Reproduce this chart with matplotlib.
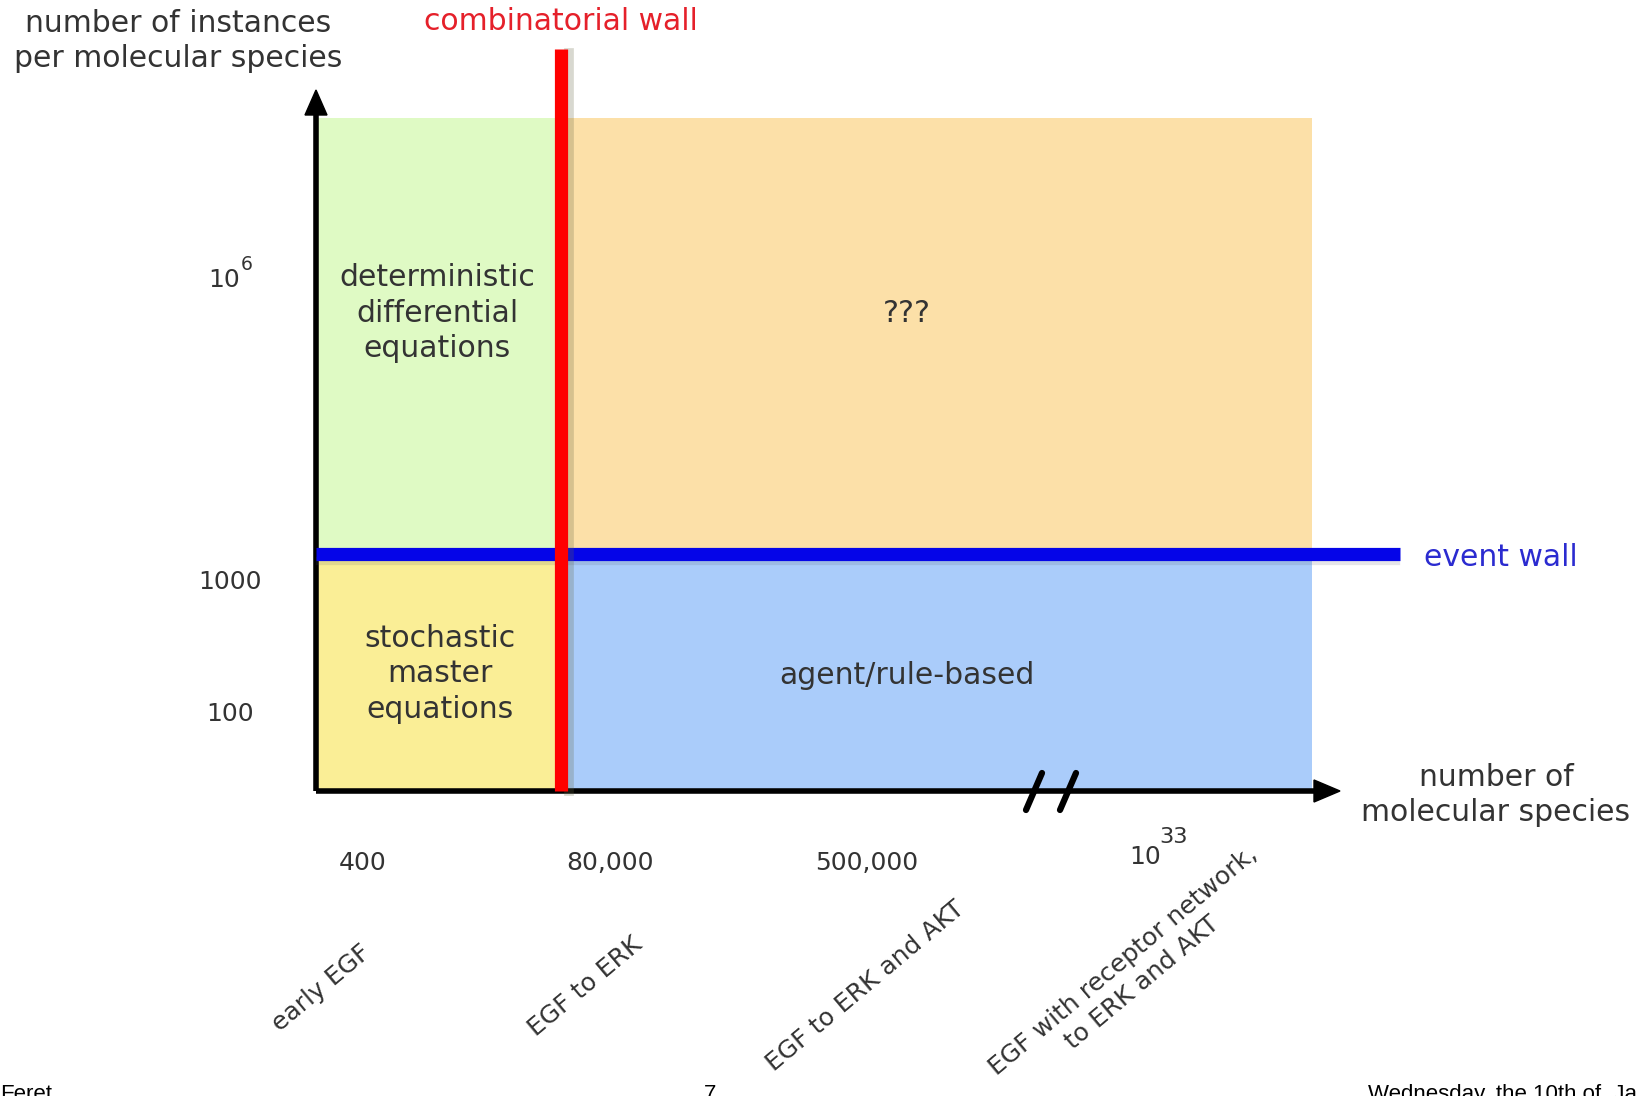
import matplotlib
matplotlib.use('Agg')

import matplotlib.pyplot as plt
from matplotlib.patches import Rectangle, Polygon


FIG_W, FIG_H = 1638, 1096  # pixels, drawn on a pixel canvas

# region boundaries (canvas pixels)
region_x = [316, 561, 1312]       # left axis, combinatorial wall, right edge
region_y = [118, 554, 791]        # top, event wall, x axis
region_colors = ['#dffac4', '#fce0a8', '#faee96', '#aaccfa']  # TL, TR, BL, BR
region_labels = [
    'deterministic\ndifferential\nequations',
    '???',
    'stochastic\nmaster\nequations',
    'agent/rule-based',
]
region_label_pos = [(437, 313), (907, 313), (440, 674), (907, 675)]

# y "ticks"
y_tick_base = ['10', '1000', '100']
y_tick_exp = ['6', '', '']
y_tick_pos = [(224, 280), (230, 582), (230, 714)]

# x "ticks"
x_tick_base = ['400', '80,000', '500,000', '10']
x_tick_exp = ['', '', '', '33']
x_tick_pos = [(363, 863), (610, 863), (867, 863), (1145, 857)]

x_categories = ['early EGF', 'EGF to ERK', 'EGF to ERK and AKT',
                'EGF with receptor network,\nto ERK and AKT']
x_category_pos = [(321, 988), (585, 987), (865, 986), (1133, 972)]

combinatorial_wall_x = 561
combinatorial_wall_top = 49
event_wall_y = 554
event_wall_right = 1400

TEXT = '#333333'
BIG = 21.5
SMALL = 18
SPACING = 1.27


def main():
    fig = plt.figure(figsize=(FIG_W / 100, FIG_H / 100), dpi=100)
    ax = fig.add_axes([0, 0, 1, 1])
    ax.set_xlim(0, FIG_W)
    ax.set_ylim(FIG_H, 0)
    ax.axis('off')

    # coloured regions
    x0, x1, x2 = region_x
    y0, y1, y2 = region_y
    boxes = [(x0, y0, x1 - x0, y1 - y0), (x1, y0, x2 - x1, y1 - y0),
             (x0, y1, x1 - x0, y2 - y1), (x1, y1, x2 - x1, y2 - y1)]
    for (bx, by, bw, bh), color in zip(boxes, region_colors):
        ax.add_patch(Rectangle((bx, by), bw, bh, facecolor=color,
                               edgecolor='none', zorder=1))
    for label, (lx, ly) in zip(region_labels, region_label_pos):
        ax.text(lx, ly, label, ha='center', va='center', fontsize=BIG,
                color=TEXT, linespacing=SPACING, zorder=6)

    # axes with arrow heads
    ax.plot([x0, x0], [y2, 112], color='black', lw=4, zorder=3,
            solid_capstyle='butt')
    ax.add_patch(Polygon([(x0 - 11, 115), (x0 + 11, 115), (x0, 90)],
                         closed=True, color='black', zorder=3))
    ax.plot([x0, 1316], [y2, y2], color='black', lw=4, zorder=3,
            solid_capstyle='butt')
    ax.add_patch(Polygon([(1314, y2 - 11), (1314, y2 + 11), (1340, y2)],
                         closed=True, color='black', zorder=3))
    # axis break marks
    for bx in (1034, 1068):
        ax.plot([bx - 8, bx + 8], [810, 773], color='black', lw=4.5,
                zorder=3, solid_capstyle='round')

    # event wall (blue) with a soft shadow
    ax.plot([x0 + 4, event_wall_right - 4], [event_wall_y + 7] * 2,
            color='#556', lw=6, alpha=0.15, zorder=3.5)
    ax.plot([x0, event_wall_right], [event_wall_y] * 2, color='#0505e8',
            lw=9.5, zorder=4, solid_capstyle='butt')
    ax.text(1424, event_wall_y + 3, 'event wall', ha='left', va='center',
            fontsize=BIG, color='#2b2bd0', zorder=6)

    # combinatorial wall (red) with a soft shadow
    ax.plot([combinatorial_wall_x + 8] * 2, [combinatorial_wall_top + 4, y2],
            color='#664', lw=7, alpha=0.25, zorder=4.5)
    ax.plot([combinatorial_wall_x] * 2, [combinatorial_wall_top, y2],
            color='#ff0000', lw=9.5, zorder=5, solid_capstyle='butt')
    ax.text(combinatorial_wall_x, 21, 'combinatorial wall', ha='center',
            va='center', fontsize=BIG, color='#e5202a', zorder=6)

    # axis titles
    ax.text(178, 41, 'number of instances\nper molecular species',
            ha='center', va='center', fontsize=BIG, color=TEXT,
            linespacing=SPACING)
    ax.text(1496, 795, 'number of\nmolecular species', ha='center',
            va='center', fontsize=BIG, color=TEXT, linespacing=SPACING)

    # tick labels
    for base, exp, (tx, ty) in zip(y_tick_base, y_tick_exp, y_tick_pos):
        ax.text(tx, ty, base, ha='center', va='center', fontsize=SMALL,
                color=TEXT)
        if exp:
            ax.text(tx + 23, ty - 15, exp, ha='center', va='center',
                    fontsize=SMALL * 0.75, color=TEXT)
    for base, exp, (tx, ty) in zip(x_tick_base, x_tick_exp, x_tick_pos):
        ax.text(tx, ty, base, ha='center', va='center', fontsize=SMALL,
                color=TEXT)
        if exp:
            ax.text(tx + 29, ty - 20, exp, ha='center', va='center',
                    fontsize=SMALL * 0.9, color=TEXT)

    for label, (cx, cy) in zip(x_categories, x_category_pos):
        ax.text(cx, cy, label, ha='center', va='center', rotation=40,
                rotation_mode='anchor', fontsize=SMALL, color=TEXT,
                linespacing=1.25, multialignment='center')

    # slide footer, cut off by the bottom edge
    footer = dict(fontsize=16, family='Liberation Sans', color='black',
                  va='baseline')
    ax.text(0, 1100, 'Feret', ha='left', **footer)
    ax.text(710, 1100, '7', ha='center', **footer)
    ax.text(1368, 1100, 'Wednesday, the 10th of  January', ha='left',
            **footer)

    fig.savefig('out.png', dpi=100)
    plt.close(fig)


if __name__ == '__main__':
    main()
